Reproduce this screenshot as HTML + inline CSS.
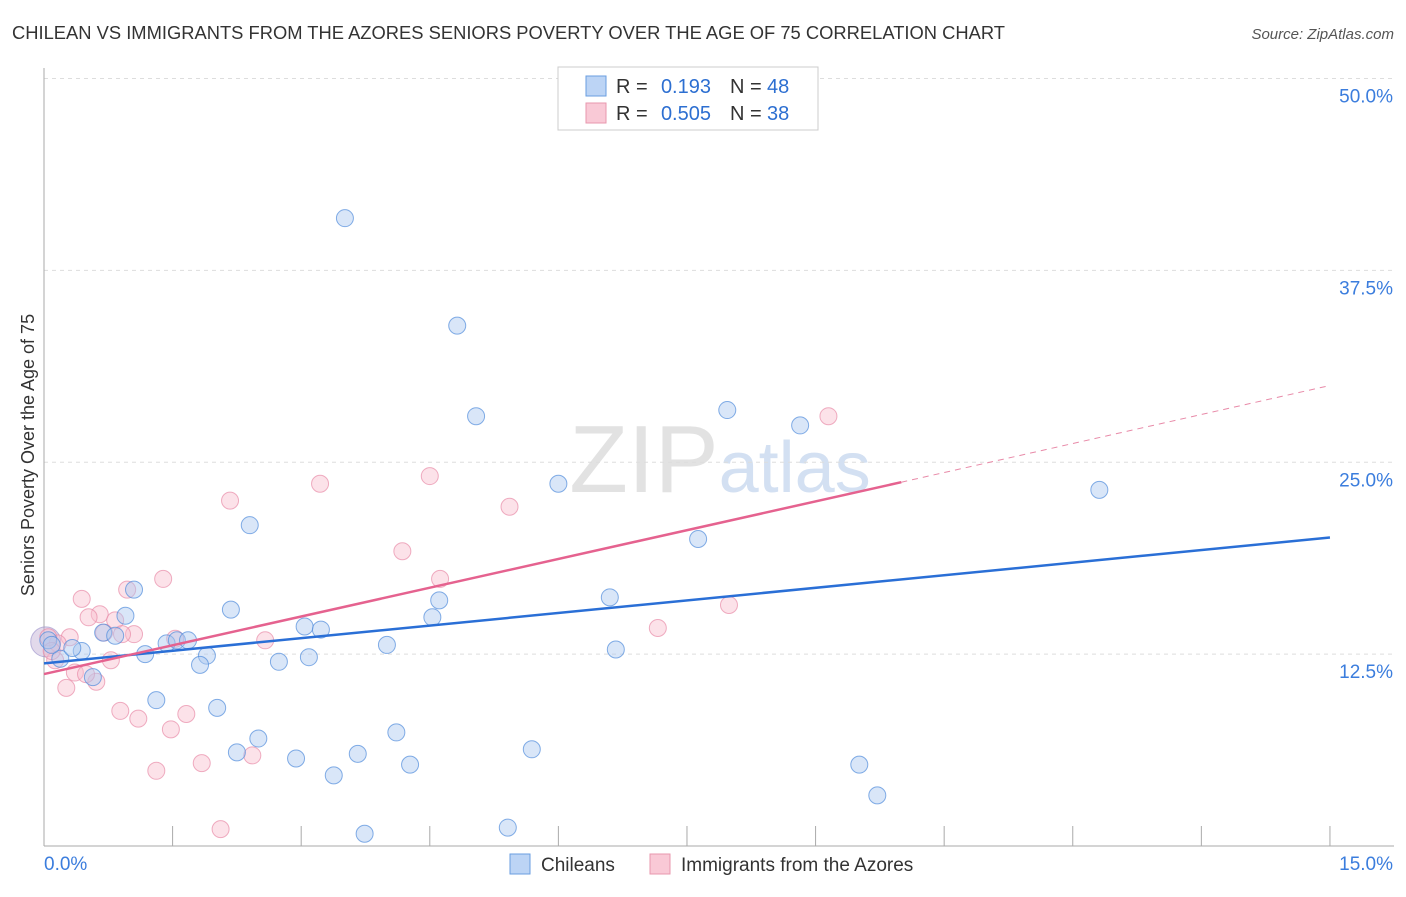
<!DOCTYPE html>
<html><head><meta charset="utf-8">
<style>
body{margin:0;background:#fff;font-family:"Liberation Sans",sans-serif;}
svg text{font-family:"Liberation Sans",sans-serif;}
</style></head>
<body>
<svg id="chart" width="1406" height="892" xmlns="http://www.w3.org/2000/svg">
<text x="12" y="39" font-size="18" fill="#333" textLength="993" lengthAdjust="spacingAndGlyphs">CHILEAN VS IMMIGRANTS FROM THE AZORES SENIORS POVERTY OVER THE AGE OF 75 CORRELATION CHART</text>
<text x="1394" y="39" font-size="15" fill="#555" font-style="italic" text-anchor="end">Source: ZipAtlas.com</text>
<text x="720" y="492" font-size="96" fill="#e2e2e2" text-anchor="middle" font-family="Liberation Serif">ZIP<tspan fill="#d3e0f2" font-family="Liberation Sans" font-size="72">atlas</tspan></text>
<g id="grid"></g>
<g id="axes"></g>
<g id="marks"></g>
<text transform="translate(34,455) rotate(-90)" font-size="18" fill="#333" text-anchor="middle">Seniors Poverty Over the Age of 75</text>
<g>
<rect x="558" y="67" width="260" height="63" fill="#fff" stroke="#ccc"/>
<rect x="586" y="76" width="20" height="20" fill="#bcd4f5" stroke="#6a9ee0"/>
<text x="616" y="93" font-size="20" fill="#333">R =</text>
<text x="711" y="93" font-size="20" fill="#2d6fd1" text-anchor="end">0.193</text>
<text x="730" y="93" font-size="20" fill="#333">N =</text>
<text x="767" y="93" font-size="20" fill="#2d6fd1">48</text>
<rect x="586" y="103" width="20" height="20" fill="#f9c9d6" stroke="#e897ae"/>
<text x="616" y="120" font-size="20" fill="#333">R =</text>
<text x="711" y="120" font-size="20" fill="#2d6fd1" text-anchor="end">0.505</text>
<text x="730" y="120" font-size="20" fill="#333">N =</text>
<text x="767" y="120" font-size="20" fill="#2d6fd1">38</text>
</g>
<g>
<rect x="510" y="854" width="20" height="20" fill="#bcd4f5" stroke="#6a9ee0"/>
<text x="541" y="871" font-size="19" fill="#333">Chileans</text>
<rect x="650" y="854" width="20" height="20" fill="#f9c9d6" stroke="#e897ae"/>
<text x="681" y="871" font-size="19" fill="#333">Immigrants from the Azores</text>
</g>
</svg>
<script>
const xTicks=[0,1.5,3,4.5,6,7.5,9,10.5,12,13.5,15];
const yTicks=[12.5,25,37.5,50];
const yTickLabels=["12.5%","25.0%","37.5%","50.0%"];
const chileX=[3.51,4.82,5.04,7.97,8.82,12.31,6.0,2.4,7.63,1.05,0.95,2.18,4.61,6.6,4.53,3.04,3.23,0.69,0.83,1.43,1.55,1.68,4.0,0.44,6.67,0.19,0.33,1.18,1.9,1.82,2.74,3.09,0.57,1.31,2.02,2.5,2.25,4.11,2.94,3.66,5.69,4.27,3.38,9.51,9.72,3.74,5.41,0.05,0.09];
const chileY=[40.9,33.9,28.0,28.4,27.4,23.2,23.6,20.9,20.0,16.7,15.0,15.4,16.0,16.2,14.9,14.3,14.1,13.9,13.7,13.2,13.4,13.4,13.1,12.7,12.8,12.2,12.9,12.5,12.4,11.8,12.0,12.3,11.0,9.5,9.0,7.0,6.1,7.4,5.7,6.0,6.3,5.3,4.6,5.3,3.3,0.8,1.2,13.4,13.1];
const azX=[9.15,4.5,3.22,2.17,5.43,4.18,4.62,1.39,0.97,0.44,0.65,0.52,0.83,1.05,0.91,0.70,1.53,2.58,0.30,0.16,0.13,0.36,0.61,0.26,0.78,7.99,7.16,0.89,1.10,1.66,1.48,2.43,1.84,1.31,2.06,0.05,0.09,0.49];
const azY=[28.0,24.1,23.6,22.5,22.1,19.2,17.4,17.4,16.7,16.1,15.1,14.9,14.7,13.8,13.8,13.9,13.5,13.4,13.6,13.2,12.1,11.3,10.7,10.3,12.1,15.7,14.2,8.8,8.3,8.6,7.6,5.9,5.4,4.9,1.1,13.6,12.7,11.2];
const blueLine=[0,11.9,15,20.1];
const pinkLine=[0,11.2,10,23.7,15,30.0];
const X=v=>44+v*85.73, Y=v=>846-v*15.35;
const NS="http://www.w3.org/2000/svg";
function mk(p,t,a){const e=document.createElementNS(NS,t);for(const k in a)e.setAttribute(k,a[k]);document.getElementById(p).appendChild(e);return e;}
yTicks.forEach((t,i)=>{
 const l=mk('grid','line',{x1:44,x2:1394,y1:Y(t),y2:Y(t),stroke:'#ddd','stroke-dasharray':'4,4'});
 
 
 const tx=mk('axes','text',{x:1393,y:Y(t)+24,'font-size':19,fill:'#3b7ddd','text-anchor':'end'});tx.textContent=yTickLabels[i];
 
 
});
const ya=mk('axes','line',{x1:44,x2:44,y1:68,y2:846,stroke:'#aaa'});


const xa=mk('axes','line',{x1:44,x2:1394,y1:846,y2:846,stroke:'#aaa'});


xTicks.forEach(t=>{const l=mk('axes','line',{x1:X(t),x2:X(t),y1:826,y2:846,stroke:'#aaa'});
 
 });
const x0=mk('axes','text',{x:44,y:870,'font-size':19,fill:'#3b7ddd'});x0.textContent='0.0%';


const x1=mk('axes','text',{x:1393,y:870,'font-size':19,fill:'#3b7ddd','text-anchor':'end'});x1.textContent='15.0%';


const big=mk('marks','circle',{cx:X(0.02),cy:Y(13.3),r:15,fill:'rgba(190,170,210,0.45)',stroke:'rgba(150,140,200,0.6)'});


azX.forEach((v,i)=>{const c=mk('marks','circle',{cx:X(v),cy:Y(azY[i]),r:8.5,fill:'rgba(248,190,207,0.45)',stroke:'rgba(232,140,168,0.7)'});
 
 });
chileX.forEach((v,i)=>{const c=mk('marks','circle',{cx:X(v),cy:Y(chileY[i]),r:8.5,fill:'rgba(170,200,240,0.45)',stroke:'rgba(80,140,220,0.7)'});
 
 });
const bl=mk('marks','line',{x1:X(blueLine[0]),y1:Y(blueLine[1]),x2:X(blueLine[2]),y2:Y(blueLine[3]),stroke:'#2a6fd6','stroke-width':2.5});


const pl=mk('marks','line',{x1:X(pinkLine[0]),y1:Y(pinkLine[1]),x2:X(pinkLine[2]),y2:Y(pinkLine[3]),stroke:'#e5628f','stroke-width':2.5});


const pd=mk('marks','line',{x1:X(pinkLine[2]),y1:Y(pinkLine[3]),x2:X(pinkLine[4]),y2:Y(pinkLine[5]),stroke:'#e88aa8','stroke-width':1,'stroke-dasharray':'6,5'});


</script>
</body></html>
